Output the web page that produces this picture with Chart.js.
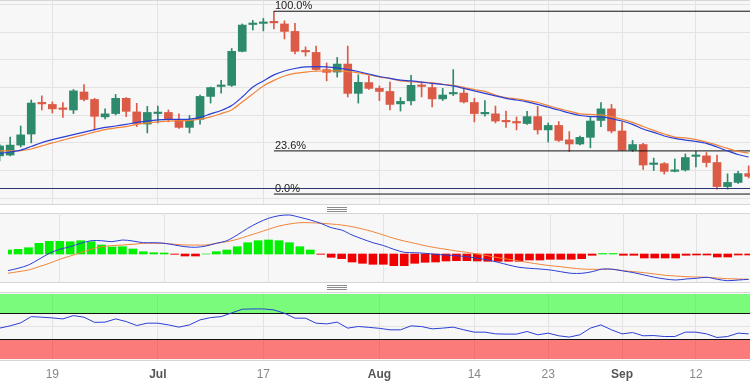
<!DOCTYPE html>
<html>
<head>
<meta charset="utf-8">
<script src="https://cdn.jsdelivr.net/npm/chart.js@4.4.0/dist/chart.umd.min.js"></script>
<style>
  body { margin: 0; width: 750px; height: 386px; overflow: hidden; background: #fff; position: relative; }
  .pane { position: absolute; left: 0; width: 750px; background: #f7f7f7; }
  .rule { position: absolute; left: 0; width: 750px; height: 1px; background: #d6d6d6; }
  .grip { position: absolute; left: 327px; width: 20px; height: 1px; background: #8c8c8c; box-shadow: 0 2px 0 #8c8c8c, 0 4px 0 #8c8c8c; }
  canvas { position: absolute; left: 0; }
</style>
</head>
<body>
<div class="pane" style="top:0;height:205px"></div>
<div class="pane" style="top:213px;height:69px"></div>
<div class="pane" style="top:293px;height:67px"></div>
<div class="rule" style="top:0"></div>
<div class="rule" style="top:204px"></div>
<div class="rule" style="top:213px"></div>
<div class="rule" style="top:282px"></div>
<div class="rule" style="top:292px"></div>
<div class="rule" style="top:360px"></div>
<div class="grip" style="top:207px"></div>
<div class="grip" style="top:285px"></div>
<canvas id="price" width="750" height="203" style="top:1px"></canvas>
<canvas id="macd" width="750" height="69" style="top:213px"></canvas>
<canvas id="rsi" width="750" height="92" style="top:294px"></canvas>

<script>
// EUR/USD daily, Jun 12 - Sep 19 2023
const dates = [
  '2023-06-12','2023-06-13','2023-06-14','2023-06-15','2023-06-16','2023-06-19','2023-06-20','2023-06-21','2023-06-22','2023-06-23',
  '2023-06-26','2023-06-27','2023-06-28','2023-06-29','2023-06-30','2023-07-03','2023-07-04','2023-07-05','2023-07-06','2023-07-07',
  '2023-07-10','2023-07-11','2023-07-12','2023-07-13','2023-07-14','2023-07-17','2023-07-18','2023-07-19','2023-07-20','2023-07-21',
  '2023-07-24','2023-07-25','2023-07-26','2023-07-27','2023-07-28','2023-07-31','2023-08-01','2023-08-02','2023-08-03','2023-08-04',
  '2023-08-07','2023-08-08','2023-08-09','2023-08-10','2023-08-11','2023-08-14','2023-08-15','2023-08-16','2023-08-17','2023-08-18',
  '2023-08-21','2023-08-22','2023-08-23','2023-08-24','2023-08-25','2023-08-28','2023-08-29','2023-08-30','2023-08-31','2023-09-01',
  '2023-09-04','2023-09-05','2023-09-06','2023-09-07','2023-09-08','2023-09-11','2023-09-12','2023-09-13','2023-09-14','2023-09-15',
  '2023-09-18','2023-09-19'
];

const open = [
  1.0753,1.0756,1.0792,1.0832,1.0946,1.0939,1.0924,1.0919,1.0984,1.0957,
  1.0894,1.0906,1.0961,1.0912,1.0868,1.0906,1.0910,1.0883,1.0856,1.0885,
  1.0968,1.1004,1.1008,1.1131,1.1228,1.1232,1.1237,1.1230,1.1203,1.1131,
  1.1127,1.1065,1.1056,1.1085,1.0979,1.1018,1.0997,1.0986,1.0941,1.0952,
  1.1008,1.1000,1.0959,1.0977,1.0980,1.0946,1.0905,1.0905,1.0879,1.0876,
  1.0870,1.0895,1.0847,1.0863,1.0811,1.0796,1.0820,1.0881,1.0923,1.0843,
  1.0774,1.0794,1.0722,1.0725,1.0697,1.0702,1.0751,1.0753,1.0729,1.0642,
  1.0657,1.0689
];
const high = [
  1.0796,1.0821,1.0861,1.0955,1.0970,1.0948,1.0946,1.0993,1.1011,1.0961,
  1.0923,1.0975,1.0964,1.0943,1.0932,1.0933,1.0919,1.0905,1.0899,1.0973,
  1.1002,1.1026,1.1141,1.1230,1.1243,1.1250,1.1276,1.1241,1.1232,1.1147,
  1.1150,1.1089,1.1109,1.1150,1.1046,1.1042,1.1006,1.1020,1.0964,1.1044,
  1.1020,1.1015,1.0997,1.1065,1.1002,1.0961,1.0953,1.0933,1.0915,1.0894,
  1.0914,1.0932,1.0872,1.0877,1.0841,1.0825,1.0892,1.0946,1.0939,1.0874,
  1.0809,1.0798,1.0745,1.0729,1.0742,1.0760,1.0769,1.0765,1.0756,1.0688,
  1.0697,1.0717
];
const low = [
  1.0735,1.0753,1.0785,1.0800,1.0919,1.0908,1.0892,1.0906,1.0952,1.0847,
  1.0887,1.0901,1.0895,1.0859,1.0836,1.0872,1.0876,1.0852,1.0836,1.0868,
  1.0944,1.0980,1.1004,1.1129,1.1208,1.1205,1.1212,1.1176,1.1122,1.1114,
  1.1062,1.1024,1.1038,1.0966,1.0944,1.0993,1.0953,1.0919,1.0915,1.0937,
  1.0966,1.0930,1.0953,1.0971,1.0944,1.0876,1.0897,1.0872,1.0856,1.0847,
  1.0867,1.0832,1.0803,1.0805,1.0769,1.0793,1.0782,1.0859,1.0836,1.0773,
  1.0769,1.0704,1.0700,1.0687,1.0695,1.0698,1.0713,1.0713,1.0633,1.0633,
  1.0653,1.0673
];
const close = [
  1.0789,1.0792,1.0829,1.0944,1.0941,1.0923,1.0921,1.0988,1.0957,1.0896,
  1.0905,1.0961,1.0914,1.0870,1.0910,1.0910,1.0887,1.0856,1.0883,1.0968,
  1.1000,1.1008,1.1131,1.1226,1.1232,1.1236,1.1234,1.1203,1.1131,1.1129,
  1.1065,1.1055,1.1085,1.0979,1.1019,1.0997,1.0986,1.0939,1.0950,1.1008,
  1.1004,1.0959,1.0973,1.0980,1.0948,1.0906,1.0906,1.0879,1.0876,1.0872,
  1.0895,1.0847,1.0863,1.0809,1.0796,1.0820,1.0879,1.0923,1.0843,1.0774,
  1.0794,1.0720,1.0726,1.0697,1.0700,1.0747,1.0755,1.0729,1.0642,1.0657,
  1.0689,1.0679
];

// moving averages (blue = fast, orange = slow)
const maFast = [
  1.0762,1.0767,1.0774,1.0787,1.0801,1.0812,1.0821,1.0830,1.0839,1.0848,
  1.0856,1.0861,1.0867,1.0874,1.0879,1.0883,1.0885,1.0885,1.0886,1.0892,
  1.0905,1.0917,1.0935,1.0966,1.1002,1.1024,1.1046,1.1060,1.1069,1.1075,
  1.1076,1.1075,1.1071,1.1065,1.1058,1.1049,1.1040,1.1033,1.1027,1.1024,
  1.1020,1.1015,1.1011,1.1006,1.0997,1.0988,1.0979,1.0970,1.0961,1.0955,
  1.0948,1.0939,1.0929,1.0919,1.0908,1.0899,1.0895,1.0894,1.0888,1.0879,
  1.0867,1.0850,1.0838,1.0825,1.0816,1.0810,1.0805,1.0798,1.0785,1.0771,
  1.0758,1.0749
];
const maSlow = [
  1.0771,1.0771,1.0772,1.0778,1.0789,1.0800,1.0810,1.0820,1.0829,1.0839,
  1.0848,1.0854,1.0859,1.0867,1.0872,1.0876,1.0879,1.0880,1.0881,1.0886,
  1.0894,1.0906,1.0919,1.0948,1.0977,1.1006,1.1026,1.1042,1.1051,1.1056,
  1.1059,1.1060,1.1060,1.1058,1.1053,1.1046,1.1038,1.1033,1.1024,1.1021,
  1.1019,1.1017,1.1012,1.1008,1.1000,1.0993,1.0986,1.0973,1.0964,1.0959,
  1.0953,1.0946,1.0935,1.0924,1.0915,1.0905,1.0903,1.0901,1.0895,1.0885,
  1.0874,1.0859,1.0845,1.0832,1.0821,1.0818,1.0812,1.0803,1.0792,1.0780,
  1.0769,1.0763
];

// Fibonacci retracement of the Jul 18 high
const fibLevels = [0, 23.6, 100];
const fibHigh = 1.1276;
const fibLow = 1.0615;
const fibStart = '2023-07-18';
const supportLevel = 1.0635;
const priceGrid = [1.06, 1.07, 1.08, 1.09, 1.10, 1.11, 1.12, 1.13];

// MACD
const macdLine = [
  -0.00167,-0.00143,-0.00110,-0.00053,0.00007,0.00047,0.00073,0.00107,0.00133,0.00133,
  0.00123,0.00140,0.00130,0.00113,0.00113,0.00107,0.00090,0.00073,0.00067,0.00080,
  0.00107,0.00133,0.00190,0.00257,0.00313,0.00357,0.00383,0.00390,0.00367,0.00340,
  0.00307,0.00263,0.00240,0.00190,0.00150,0.00113,0.00085,0.00047,0.00017,0.00013,
  0.00007,-0.00003,-0.00010,-0.00017,-0.00027,-0.00043,-0.00060,-0.00083,-0.00110,-0.00133,
  -0.00143,-0.00150,-0.00160,-0.00177,-0.00193,-0.00193,-0.00177,-0.00150,-0.00153,-0.00170,
  -0.00187,-0.00210,-0.00233,-0.00250,-0.00260,-0.00250,-0.00243,-0.00233,-0.00253,-0.00267,
  -0.00260,-0.00253
];
const signalLine = [
  -0.00193,-0.00177,-0.00160,-0.00127,-0.00093,-0.00053,-0.00020,0.00013,0.00047,0.00073,
  0.00083,0.00090,0.00097,0.00107,0.00107,0.00107,0.00097,0.00090,0.00090,0.00090,
  0.00107,0.00123,0.00147,0.00180,0.00213,0.00247,0.00280,0.00300,0.00313,0.00313,
  0.00307,0.00300,0.00290,0.00273,0.00250,0.00223,0.00190,0.00157,0.00130,0.00107,
  0.00083,0.00063,0.00047,0.00030,0.00017,0.00000,-0.00017,-0.00037,-0.00053,-0.00070,
  -0.00087,-0.00103,-0.00117,-0.00127,-0.00140,-0.00150,-0.00153,-0.00153,-0.00153,-0.00167,
  -0.00177,-0.00187,-0.00200,-0.00213,-0.00220,-0.00227,-0.00230,-0.00233,-0.00240,-0.00247,
  -0.00250,-0.00253
];
const macdHist = [
  0.00040,0.00047,0.00063,0.00107,0.00127,0.00127,0.00123,0.00133,0.00123,0.00090,
  0.00070,0.00073,0.00050,0.00023,0.00013,0.00010,-0.00003,-0.00020,-0.00020,0.00000,
  0.00023,0.00040,0.00073,0.00113,0.00133,0.00140,0.00133,0.00113,0.00073,0.00040,
  -0.00003,-0.00033,-0.00047,-0.00080,-0.00093,-0.00103,-0.00103,-0.00117,-0.00117,-0.00093,
  -0.00083,-0.00080,-0.00070,-0.00067,-0.00067,-0.00070,-0.00073,-0.00073,-0.00073,-0.00073,
  -0.00060,-0.00060,-0.00053,-0.00053,-0.00053,-0.00047,-0.00013,0.00005,0.00005,-0.00013,
  -0.00013,-0.00040,-0.00040,-0.00040,-0.00040,-0.00013,-0.00010,-0.00010,-0.00030,-0.00030,
  -0.00010,-0.00010
];

// RSI
const rsi = [
  47.5,51.0,55.6,65.2,64.3,63.2,61.7,66.8,64.3,56.4,
  56.7,61.7,57.6,51.5,55.1,55.1,52.5,49.0,52.5,60.2,
  63.7,65.2,70.9,76.6,77.0,77.0,75.5,70.4,62.8,62.8,
  55.1,54.0,56.7,47.5,50.0,48.7,47.2,44.9,44.9,51.0,
  49.9,46.4,47.5,49.0,44.9,41.3,41.3,38.7,38.3,38.3,
  42.3,37.2,39.8,35.7,33.7,37.2,47.5,52.5,44.9,38.7,
  40.7,35.7,36.1,34.6,34.6,41.3,41.3,38.7,33.1,34.6,
  39.8,38.7
];
const rsiLevels = [30, 70];

const tickDates = ['2023-06-19','2023-07-03','2023-07-17','2023-08-01','2023-08-14','2023-08-23','2023-09-01','2023-09-12'];
const tickLabels = ['19','Jul','17','Aug','14','23','Sep','12'];
const monthTicks = ['Jul','Aug','Sep'];

const FONT = '"Liberation Sans", Arial, sans-serif';
const UP = '#2e8a6c', DOWN = '#dc5b47';
const BLUE = '#2b3fd4', ORANGE = '#f0843a';

const idx = dates.map((d, i) => i);
const tickPos = tickDates.map(d => dates.indexOf(d));
const labelAt = v => tickLabels[tickPos.indexOf(v)];
const isMonth = c => !!(c && c.tick) && monthTicks.includes(labelAt(c.tick.value));

function xAxis(showLabels) {
  const axis = {
    type: 'linear', min: 0.038, max: 71.128, offset: false,
    afterBuildTicks: s => { s.ticks = tickPos.map(v => ({ value: v })); },
    grid: { color: '#e3e3e3', drawTicks: false, offset: false },
    border: { display: false },
    ticks: { display: false }
  };
  if (showLabels) {
    axis.afterFit = s => { s.height = 27; };
    axis.ticks = {
      padding: 8, maxRotation: 0, autoSkip: false,
      callback: v => labelAt(v),
      color: c => isMonth(c) ? '#555' : '#888',
      font: c => ({ family: FONT, size: 12, weight: isMonth(c) ? 'bold' : 'normal' })
    };
  }
  return axis;
}

const base = {
  responsive: false, animation: false, events: [],
  layout: { padding: 0 },
  plugins: { legend: { display: false }, tooltip: { enabled: false } }
};

function flat(level, from, to) {
  return [{ x: from, y: level }, { x: to, y: level }];
}

const lineStyle = { type: 'line', pointRadius: 0, borderWidth: 1.2, tension: 0.3 };

// ---- price panel ----
const fibLabelPlugin = {
  id: 'fibLabels',
  afterDatasetsDraw(chart) {
    const { ctx, scales } = chart;
    ctx.save();
    ctx.font = '11px ' + FONT;
    ctx.fillStyle = '#222';
    ctx.textBaseline = 'alphabetic';
    fibLevels.forEach(l => {
      const p = fibLow + (fibHigh - fibLow) * l / 100;
      ctx.fillText(l.toFixed(1) + '%', scales.x.getPixelForValue(dates.indexOf(fibStart)) + 1, scales.y.getPixelForValue(p) - 2);
    });
    ctx.restore();
  }
};

const fibSets = fibLevels.map(l => ({
  type: 'line', order: 1, pointRadius: 0, borderWidth: 1, borderColor: '#111',
  data: flat(fibLow + (fibHigh - fibLow) * l / 100, dates.indexOf(fibStart), dates.length)
}));

new Chart(document.getElementById('price'), {
  type: 'bar',
  data: {
    datasets: [
      { ...lineStyle, order: 0, borderColor: BLUE, data: idx.map(i => ({ x: i, y: maFast[i] })) },
      { ...lineStyle, order: 0, borderColor: ORANGE, data: idx.map(i => ({ x: i, y: maSlow[i] })) },
      ...fibSets,
      { type: 'line', order: 1, pointRadius: 0, borderWidth: 1, borderColor: '#2a3470', data: flat(supportLevel, -1, dates.length) },
      {
        order: 2, grouped: false, barThickness: 8, minBarLength: 1.5,
        backgroundColor: idx.map(i => close[i] >= open[i] ? UP : DOWN),
        data: idx.map(i => ({ x: i, y: [open[i], close[i]] }))
      },
      {
        order: 3, grouped: false, barThickness: 1,
        backgroundColor: idx.map(i => close[i] >= open[i] ? UP : DOWN),
        data: idx.map(i => ({ x: i, y: [low[i], high[i]] }))
      }
    ]
  },
  options: {
    ...base,
    scales: {
      x: xAxis(false),
      y: {
        min: 1.0579, max: 1.1313,
        afterBuildTicks: s => { s.ticks = priceGrid.map(v => ({ value: v })); },
        ticks: { display: false },
        grid: { color: '#e3e3e3', drawTicks: false },
        border: { display: false }
      }
    }
  },
  plugins: [fibLabelPlugin]
});

// ---- MACD panel ----
new Chart(document.getElementById('macd'), {
  type: 'bar',
  data: {
    datasets: [
      { ...lineStyle, borderWidth: 1, order: 0, borderColor: BLUE, data: idx.map(i => ({ x: i, y: macdLine[i] })) },
      { ...lineStyle, borderWidth: 1, order: 0, borderColor: ORANGE, data: idx.map(i => ({ x: i, y: signalLine[i] })) },
      {
        order: 1, barThickness: 8,
        backgroundColor: macdHist.map(v => v >= 0 ? '#00f000' : '#f00000'),
        data: idx.map(i => ({ x: i, y: macdHist[i] }))
      }
    ]
  },
  options: {
    ...base,
    scales: {
      x: xAxis(false),
      y: { min: -0.0028, max: 0.0041, ticks: { display: false }, grid: { display: false }, border: { display: false } }
    }
  }
});

// ---- RSI panel ----
const rsiBands = {
  id: 'rsiBands',
  beforeDatasetsDraw(chart) {
    const { ctx, chartArea: a, scales: { y } } = chart;
    ctx.save();
    ctx.fillStyle = 'rgba(0,255,0,0.5)';
    ctx.fillRect(a.left, y.getPixelForValue(100), a.width, y.getPixelForValue(rsiLevels[1]) - y.getPixelForValue(100));
    ctx.fillStyle = 'rgba(255,0,0,0.5)';
    ctx.fillRect(a.left, y.getPixelForValue(rsiLevels[0]), a.width, y.getPixelForValue(0) - y.getPixelForValue(rsiLevels[0]));
    ctx.restore();
  }
};

new Chart(document.getElementById('rsi'), {
  type: 'line',
  data: {
    datasets: [
      { ...lineStyle, borderWidth: 1, tension: 0, borderColor: BLUE, data: idx.map(i => ({ x: i, y: rsi[i] })) },
      ...rsiLevels.map(l => ({ type: 'line', pointRadius: 0, borderWidth: 1, borderColor: '#111', data: flat(l, -1, dates.length) }))
    ]
  },
  options: {
    ...base,
    scales: {
      x: xAxis(true),
      y: {
        min: 0, max: 100,
        afterBuildTicks: s => { s.ticks = [{ value: 50 }]; },
        ticks: { display: false },
        grid: { color: '#e3e3e3', drawTicks: false },
        border: { display: false }
      }
    }
  },
  plugins: [rsiBands]
});
</script>
</body>
</html>
